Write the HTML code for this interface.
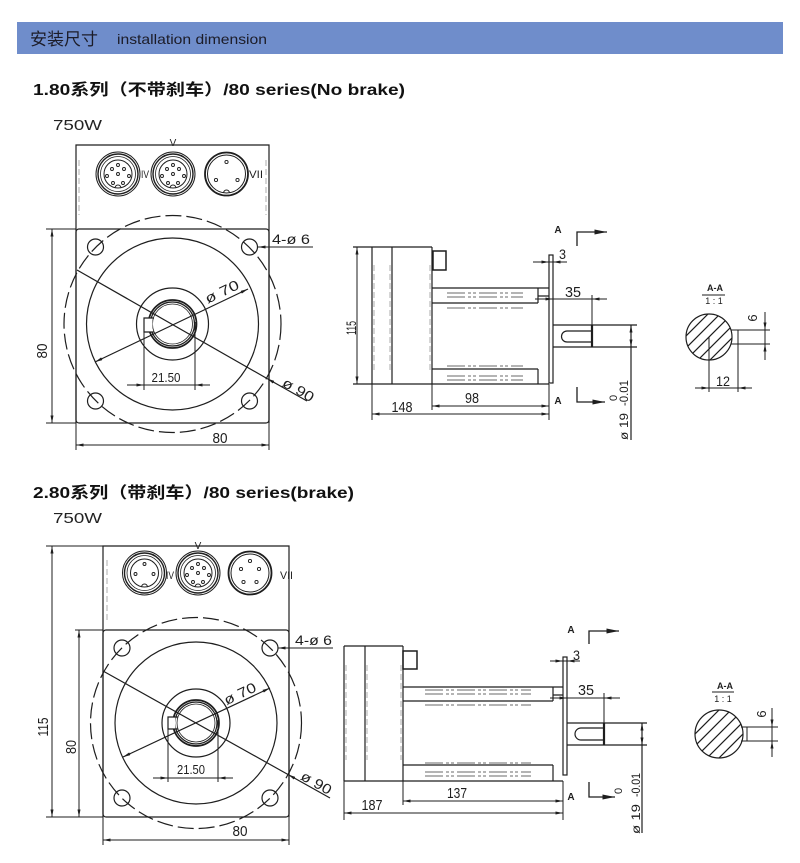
<!DOCTYPE html>
<html><head><meta charset="utf-8"><style>
html,body{margin:0;padding:0;background:#fff;}
svg{display:block;}
</style></head><body>
<svg width="800" height="863" viewBox="0 0 800 863" xmlns="http://www.w3.org/2000/svg" font-family="'Liberation Sans','Noto Sans CJK SC',sans-serif">
<defs>
<marker id="ar" viewBox="0 0 10 4" refX="10" refY="2" markerWidth="8" markerHeight="3" markerUnits="userSpaceOnUse" orient="auto-start-reverse"><path d="M0,0 L10,2 L0,4z" fill="#1e1e1e"/></marker>
<marker id="ab" viewBox="0 0 10 4" refX="10" refY="2" markerWidth="13" markerHeight="5" markerUnits="userSpaceOnUse" orient="auto"><path d="M0,0 L10,2 L0,4z" fill="#1e1e1e"/></marker>
<clipPath id="c1"><circle cx="709" cy="337" r="23"/></clipPath>
<clipPath id="c2"><circle cx="719" cy="734" r="24"/></clipPath>
</defs>
<rect width="800" height="863" fill="#fff"/>

<!-- header -->
<rect x="17" y="22" width="766" height="32" fill="#6f8dcb"/>
<text x="30" y="45" font-size="17" fill="#1c1c28">安装尺寸</text>
<text x="117" y="44" font-size="14" fill="#1c1c28" textLength="150" lengthAdjust="spacingAndGlyphs">installation dimension</text>

<!-- titles -->
<text x="33" y="95" font-size="16" font-weight="bold" fill="#111" textLength="372" lengthAdjust="spacingAndGlyphs">1.80系列（不带刹车）/80 series(No brake)</text>
<text x="53" y="130" font-size="15" fill="#222" textLength="49" lengthAdjust="spacingAndGlyphs">750W</text>
<text x="33" y="498" font-size="16" font-weight="bold" fill="#111" textLength="321" lengthAdjust="spacingAndGlyphs">2.80系列（带刹车）/80 series(brake)</text>
<text x="53" y="523" font-size="15" fill="#222" textLength="49" lengthAdjust="spacingAndGlyphs">750W</text>

<g stroke="#1e1e1e" fill="none" stroke-width="1.2">
<!-- ================= FRONT VIEW 1 ================= -->
<path d="M76,423 V145 H269 V423"/>
<rect x="76" y="229" width="193" height="194" rx="3"/>
<circle cx="172.5" cy="324" r="108.5" stroke-dasharray="16 5"/>
<circle cx="172.5" cy="324" r="86"/>
<circle cx="172.5" cy="324" r="36"/>
<circle cx="172.5" cy="324" r="24" stroke-width="1.7"/>
<circle cx="172.5" cy="324" r="22"/>
<circle cx="172.5" cy="324" r="20" stroke-width="0.8"/>
<rect x="144.5" y="318" width="8" height="14" fill="#fff" stroke="none"/>
<path d="M154,318 H144 V332 H154"/>
<circle cx="95.5" cy="247" r="8"/>
<circle cx="249.5" cy="247" r="8"/>
<circle cx="95.5" cy="401" r="8"/>
<circle cx="249.5" cy="401" r="8"/>
<path d="M77,270 L267,378.5"/>
<path d="M307,401 L267,378.5" marker-end="url(#ar)"/>
<path d="M95,362 L248,289" marker-start="url(#ar)" marker-end="url(#ar)"/>
<path d="M144,318 V390 M195,322 V390 M127,385 H210" stroke-width="1"/>
<path d="M128,385 H144" marker-end="url(#ar)" stroke-width="1"/>
<path d="M210,385 H195" marker-end="url(#ar)" stroke-width="1"/>
<path d="M313,247 H258" marker-end="url(#ar)" stroke-width="1"/>
<path d="M46,229 H76 M46,423 H76 M76,423 V450 M269,423 V450" stroke-width="1"/>
<path d="M52,229 V423" marker-start="url(#ar)" marker-end="url(#ar)" stroke-width="1"/>
<path d="M76,445 H269" marker-start="url(#ar)" marker-end="url(#ar)" stroke-width="1"/>
<path d="M79,160 V215 M266,160 V215" stroke="#999" stroke-width="0.8" stroke-dasharray="6 3"/>
<g>
<circle cx="118" cy="174" r="22" stroke-width="1"/>
<circle cx="118" cy="174" r="20" stroke-width="1.4"/>
<circle cx="118" cy="174" r="17.5" stroke-width="0.8"/>
<circle cx="118" cy="174" r="14" stroke-width="1"/>
<g stroke-width="0.9"><circle cx="112" cy="169" r="1.5"/><circle cx="118" cy="165" r="1.5"/><circle cx="124" cy="169" r="1.5"/><circle cx="107" cy="176" r="1.5"/><circle cx="118" cy="174" r="1.5"/><circle cx="129" cy="176" r="1.5"/><circle cx="113" cy="183" r="1.5"/><circle cx="123" cy="183" r="1.5"/></g>
<path d="M115,188 A3,3 0 0 1 121,188" stroke-width="0.9"/>
</g>
<g>
<circle cx="173" cy="174" r="22" stroke-width="1"/>
<circle cx="173" cy="174" r="20" stroke-width="1.4"/>
<circle cx="173" cy="174" r="17.5" stroke-width="0.8"/>
<circle cx="173" cy="174" r="14" stroke-width="1"/>
<g stroke-width="0.9"><circle cx="167" cy="169" r="1.5"/><circle cx="173" cy="165" r="1.5"/><circle cx="179" cy="169" r="1.5"/><circle cx="162" cy="176" r="1.5"/><circle cx="173" cy="174" r="1.5"/><circle cx="184" cy="176" r="1.5"/><circle cx="168" cy="183" r="1.5"/><circle cx="178" cy="183" r="1.5"/></g>
<path d="M170,188 A3,3 0 0 1 176,188" stroke-width="0.9"/>
</g>
<g>
<circle cx="226.5" cy="174" r="21.5" stroke-width="1.8"/>
<circle cx="226.5" cy="174" r="19" stroke-width="1"/>
<g stroke-width="0.9"><circle cx="226.5" cy="162" r="1.6"/><circle cx="216" cy="180" r="1.6"/><circle cx="237.5" cy="180" r="1.6"/></g>
<path d="M223.5,193 A3,3 0 0 1 229.5,193" stroke-width="0.9"/>
</g>

<!-- ================= FRONT VIEW 2 ================= -->
<path d="M103,817 V546 H289 V817"/>
<rect x="103" y="630" width="186" height="187" rx="3"/>
<circle cx="196" cy="723" r="105.5" stroke-dasharray="16 5"/>
<circle cx="196" cy="723" r="81"/>
<circle cx="196" cy="723" r="34"/>
<circle cx="196" cy="723" r="23" stroke-width="1.7"/>
<circle cx="196" cy="723" r="21"/>
<circle cx="196" cy="723" r="19" stroke-width="0.8"/>
<rect x="168.5" y="717" width="7" height="12" fill="#fff" stroke="none"/>
<path d="M178,717 H168 V729 H178"/>
<circle cx="122" cy="648" r="8"/>
<circle cx="270" cy="648" r="8"/>
<circle cx="122" cy="798" r="8"/>
<circle cx="270" cy="798" r="8"/>
<path d="M103,671 L288,774.5"/>
<path d="M330,798 L288,774.5" marker-end="url(#ar)"/>
<path d="M123,757 L270,688" marker-start="url(#ar)" marker-end="url(#ar)"/>
<path d="M168,717 V782 M218,720 V782 M153,778 H233" stroke-width="1"/>
<path d="M153,778 H168" marker-end="url(#ar)" stroke-width="1"/>
<path d="M233,778 H218" marker-end="url(#ar)" stroke-width="1"/>
<path d="M333,648 H278" marker-end="url(#ar)" stroke-width="1"/>
<path d="M46,546 H103 M46,817 H103 M75,630 H103 M103,817 V845 M289,817 V845" stroke-width="1"/>
<path d="M52,546 V817" marker-start="url(#ar)" marker-end="url(#ar)" stroke-width="1"/>
<path d="M79,630 V817" marker-start="url(#ar)" marker-end="url(#ar)" stroke-width="1"/>
<path d="M103,840 H289" marker-start="url(#ar)" marker-end="url(#ar)" stroke-width="1"/>
<path d="M107,560 V620" stroke="#999" stroke-width="0.8" stroke-dasharray="6 3"/>
<g>
<circle cx="144.5" cy="573" r="22" stroke-width="1"/>
<circle cx="144.5" cy="573" r="20" stroke-width="1.4"/>
<circle cx="144.5" cy="573" r="17.5" stroke-width="0.8"/>
<circle cx="144.5" cy="573" r="14" stroke-width="1"/>
<g stroke-width="0.9"><circle cx="144.5" cy="564" r="1.5"/><circle cx="135.5" cy="574" r="1.5"/><circle cx="153.5" cy="574" r="1.5"/></g>
<path d="M141.5,587 A3,3 0 0 1 147.5,587" stroke-width="0.9"/>
</g>
<g>
<circle cx="198" cy="573" r="22" stroke-width="1"/>
<circle cx="198" cy="573" r="20" stroke-width="1.4"/>
<circle cx="198" cy="573" r="17.5" stroke-width="0.8"/>
<circle cx="198" cy="573" r="14" stroke-width="1"/>
<g stroke-width="0.9"><circle cx="192" cy="568" r="1.5"/><circle cx="198" cy="564" r="1.5"/><circle cx="204" cy="568" r="1.5"/><circle cx="187" cy="575" r="1.5"/><circle cx="198" cy="573" r="1.5"/><circle cx="209" cy="575" r="1.5"/><circle cx="193" cy="582" r="1.5"/><circle cx="203" cy="582" r="1.5"/></g>
<path d="M195,587 A3,3 0 0 1 201,587" stroke-width="0.9"/>
</g>
<g>
<circle cx="250" cy="573" r="21.5" stroke-width="1.8"/>
<circle cx="250" cy="573" r="19" stroke-width="1"/>
<g stroke-width="0.9"><circle cx="250" cy="561" r="1.6"/><circle cx="241" cy="569" r="1.6"/><circle cx="259" cy="569" r="1.6"/><circle cx="243.5" cy="582" r="1.6"/><circle cx="256.5" cy="582" r="1.6"/></g>
</g>

<!-- ================= SIDE VIEW 1 ================= -->
<path d="M353,247 H432 M353,384 H549"/>
<path d="M372,247 V384 M392,247 V384 M432,247 V384"/>
<path d="M374,265 V370 M390,265 V370 M430,265 V370" stroke="#999" stroke-width="0.8" stroke-dasharray="6 3"/>
<rect x="433" y="251" width="13" height="19" stroke-width="1.5"/>
<path d="M432,288 H549 M432,303 H538 M432,369 H538 M538,288 V303 M538,369 V384 M538,296 H549"/>
<rect x="549" y="255" width="4" height="128"/>
<path d="M447,293 H523 M447,297 H523 M447,308 H523 M447,366 H523 M447,376 H523 M447,380 H523" stroke="#888" stroke-width="1.3" stroke-dasharray="18 3 3 2 3 3"/>
<path d="M357,247 V384" marker-start="url(#ar)" marker-end="url(#ar)" stroke-width="1"/>
<path d="M533,262 H567" stroke-width="1"/>
<path d="M534,262 H549" marker-end="url(#ar)" stroke-width="1"/>
<path d="M567,262 H553" marker-end="url(#ar)" stroke-width="1"/>
<path d="M535,299 H607" stroke-width="1"/>
<path d="M607,299 H592" marker-end="url(#ar)" stroke-width="1"/>
<path d="M535,299 H553" marker-end="url(#ar)" stroke-width="1"/>
<path d="M592,295 V325" stroke-width="1"/>
<path d="M553,325 H637 M553,347 H637"/>
<path d="M592,325 V347" stroke-width="2.2"/>
<path d="M592,331 H567 A5.5,5.5 0 0 0 567,342 H592"/>
<path d="M631,325 V440" stroke-width="1.2"/>
<path d="M631,337 V325" marker-end="url(#ar)" stroke-width="1"/>
<path d="M631,335 V347" marker-end="url(#ar)" stroke-width="1"/>
<path d="M577,246 V232 H607" marker-end="url(#ab)" stroke-width="1.3"/>
<path d="M577,387 V402 H605" marker-end="url(#ab)" stroke-width="1.3"/>
<path d="M372,384 V420 M432,384 V410 M549,384 V420" stroke-width="1"/>
<path d="M432,406 H549" marker-start="url(#ar)" marker-end="url(#ar)" stroke-width="1"/>
<path d="M372,414 H549" marker-start="url(#ar)" marker-end="url(#ar)" stroke-width="1"/>

<!-- ================= SIDE VIEW 2 ================= -->
<path d="M344,646 H403 M344,781 H563"/>
<path d="M344,646 V781 M365,646 V781 M403,646 V781"/>
<path d="M346,665 V760 M367,665 V760 M401,665 V760" stroke="#999" stroke-width="0.8" stroke-dasharray="6 3"/>
<rect x="403" y="651" width="14" height="18" stroke-width="1.5"/>
<path d="M403,687 H563 M403,701 H553 M403,765 H553 M553,687 V701 M553,765 V781 M553,695 H563"/>
<rect x="563" y="657" width="4" height="118"/>
<path d="M425,690 H531 M425,694 H531 M425,705 H531 M425,763 H531 M425,772 H531 M425,776 H531" stroke="#888" stroke-width="1.3" stroke-dasharray="18 3 3 2 3 3"/>
<path d="M550,661 H580" stroke-width="1"/>
<path d="M550,661 H563" marker-end="url(#ar)" stroke-width="1"/>
<path d="M580,661 H567" marker-end="url(#ar)" stroke-width="1"/>
<path d="M550,698 H620" stroke-width="1"/>
<path d="M620,698 H604" marker-end="url(#ar)" stroke-width="1"/>
<path d="M550,698 H567" marker-end="url(#ar)" stroke-width="1"/>
<path d="M604,693 V723" stroke-width="1"/>
<path d="M567,723 H647 M567,745 H647"/>
<path d="M604,723 V745" stroke-width="2.2"/>
<path d="M604,728 H581 A6,6 0 0 0 581,740 H604"/>
<path d="M642,723 V833" stroke-width="1.2"/>
<path d="M642,735 V723" marker-end="url(#ar)" stroke-width="1"/>
<path d="M642,733 V745" marker-end="url(#ar)" stroke-width="1"/>
<path d="M589,644 V631 H619" marker-end="url(#ab)" stroke-width="1.3"/>
<path d="M589,782 V797 H615" marker-end="url(#ab)" stroke-width="1.3"/>
<path d="M344,781 V820 M403,781 V805 M563,781 V820" stroke-width="1"/>
<path d="M403,801 H563" marker-start="url(#ar)" marker-end="url(#ar)" stroke-width="1"/>
<path d="M344,813 H563" marker-start="url(#ar)" marker-end="url(#ar)" stroke-width="1"/>

<!-- ================= A-A 1 ================= -->
<circle cx="709" cy="337" r="23"/>
<g clip-path="url(#c1)" stroke-width="1.2">
<path d="M670,352 L740,282 M670,364 L740,294 M670,376 L740,306 M670,388 L740,318 M670,400 L740,330 M670,412 L740,342"/>
</g>
<path d="M731,330 H770 M731,344 H770 M738,330 V392 M709,337 V392" stroke-width="1"/>
<path d="M695,388 H752" stroke-width="1"/>
<path d="M695,388 H709" marker-end="url(#ar)" stroke-width="1"/>
<path d="M752,388 H738" marker-end="url(#ar)" stroke-width="1"/>
<path d="M765,312 V360" stroke-width="1"/>
<path d="M765,314 V330" marker-end="url(#ar)" stroke-width="1"/>
<path d="M765,360 V344" marker-end="url(#ar)" stroke-width="1"/>
<path d="M702,295 H725" stroke-width="1"/>

<!-- ================= A-A 2 ================= -->
<circle cx="719" cy="734" r="24"/>
<g clip-path="url(#c2)" stroke-width="1.2">
<path d="M680,749 L760,669 M680,761 L760,681 M680,773 L760,693 M680,785 L760,705 M680,797 L760,717 M680,809 L760,729"/>
</g>
<path d="M741,727 H778 M741,741 H778 M747,727 V741" stroke-width="1"/>
<path d="M772,708 V757" stroke-width="1"/>
<path d="M772,710 V727" marker-end="url(#ar)" stroke-width="1"/>
<path d="M772,757 V741" marker-end="url(#ar)" stroke-width="1"/>
<path d="M712,692 H734" stroke-width="1"/>
</g>

<!-- ================= TEXT LABELS ================= -->
<g fill="#1e1e1e" font-family="'Liberation Sans',sans-serif">
<text x="173" y="146" font-size="10" text-anchor="middle">V</text>
<text x="141" y="178" font-size="11" textLength="8" lengthAdjust="spacingAndGlyphs">IV</text>
<text x="249" y="178" font-size="11" textLength="14" lengthAdjust="spacingAndGlyphs">VII</text>
<text x="272" y="244" font-size="14" textLength="38" lengthAdjust="spacingAndGlyphs">4-ø 6</text>
<text transform="translate(224,296) rotate(-25.5)" font-size="14" text-anchor="middle" textLength="36" lengthAdjust="spacingAndGlyphs">ø 70</text>
<text transform="translate(296,394) rotate(29.7)" font-size="14" text-anchor="middle" textLength="34" lengthAdjust="spacingAndGlyphs">ø 90</text>
<text x="166" y="382" font-size="13" text-anchor="middle" textLength="29" lengthAdjust="spacingAndGlyphs">21.50</text>
<text transform="translate(47,351) rotate(-90)" font-size="15" text-anchor="middle" textLength="15" lengthAdjust="spacingAndGlyphs">80</text>
<text x="220" y="443" font-size="15" text-anchor="middle" textLength="15" lengthAdjust="spacingAndGlyphs">80</text>
<text x="198" y="549" font-size="10" text-anchor="middle">V</text>
<text x="166" y="579" font-size="11" textLength="8" lengthAdjust="spacingAndGlyphs">IV</text>
<text x="280" y="579" font-size="11" textLength="13" lengthAdjust="spacingAndGlyphs">VII</text>
<text x="295" y="645" font-size="14" textLength="37" lengthAdjust="spacingAndGlyphs">4-ø 6</text>
<text transform="translate(242,698) rotate(-25.1)" font-size="14" text-anchor="middle" textLength="34" lengthAdjust="spacingAndGlyphs">ø 70</text>
<text transform="translate(314,787) rotate(29.2)" font-size="14" text-anchor="middle" textLength="33" lengthAdjust="spacingAndGlyphs">ø 90</text>
<text x="191" y="774" font-size="13" text-anchor="middle" textLength="28" lengthAdjust="spacingAndGlyphs">21.50</text>
<text transform="translate(48,727) rotate(-90)" font-size="15" text-anchor="middle" textLength="19" lengthAdjust="spacingAndGlyphs">115</text>
<text transform="translate(76,747) rotate(-90)" font-size="15" text-anchor="middle" textLength="14" lengthAdjust="spacingAndGlyphs">80</text>
<text x="240" y="836" font-size="15" text-anchor="middle" textLength="15" lengthAdjust="spacingAndGlyphs">80</text>
<text transform="translate(356,328) rotate(-90)" font-size="14" text-anchor="middle" textLength="14" lengthAdjust="spacingAndGlyphs">115</text>
<text x="559" y="259" font-size="14" textLength="7" lengthAdjust="spacingAndGlyphs">3</text>
<text x="573" y="297" font-size="15" text-anchor="middle" textLength="16" lengthAdjust="spacingAndGlyphs">35</text>
<text x="472" y="403" font-size="15" text-anchor="middle" textLength="14" lengthAdjust="spacingAndGlyphs">98</text>
<text x="402" y="412" font-size="15" text-anchor="middle" textLength="21" lengthAdjust="spacingAndGlyphs">148</text>
<text x="558" y="233" font-size="10" font-weight="bold" text-anchor="middle">A</text>
<text x="558" y="404" font-size="10" font-weight="bold" text-anchor="middle">A</text>
<text transform="translate(628,440) rotate(-90)" font-size="12" textLength="27" lengthAdjust="spacingAndGlyphs">ø 19</text>
<text transform="translate(628,406) rotate(-90)" font-size="12" textLength="26" lengthAdjust="spacingAndGlyphs">-0.01</text>
<text transform="translate(617,401) rotate(-90)" font-size="11">0</text>
<text x="573" y="660" font-size="14" textLength="7" lengthAdjust="spacingAndGlyphs">3</text>
<text x="586" y="695" font-size="15" text-anchor="middle" textLength="16" lengthAdjust="spacingAndGlyphs">35</text>
<text x="457" y="798" font-size="15" text-anchor="middle" textLength="20" lengthAdjust="spacingAndGlyphs">137</text>
<text x="372" y="810" font-size="15" text-anchor="middle" textLength="21" lengthAdjust="spacingAndGlyphs">187</text>
<text x="571" y="633" font-size="10" font-weight="bold" text-anchor="middle">A</text>
<text x="571" y="800" font-size="10" font-weight="bold" text-anchor="middle">A</text>
<text transform="translate(640,834) rotate(-90)" font-size="12" textLength="30" lengthAdjust="spacingAndGlyphs">ø 19</text>
<text transform="translate(640,797) rotate(-90)" font-size="12" textLength="24" lengthAdjust="spacingAndGlyphs">-0.01</text>
<text transform="translate(622,794) rotate(-90)" font-size="11">0</text>
<text x="715" y="291" font-size="9" font-weight="bold" text-anchor="middle">A-A</text>
<text x="714" y="304" font-size="9" text-anchor="middle">1 : 1</text>
<text x="723" y="386" font-size="14" text-anchor="middle" textLength="14" lengthAdjust="spacingAndGlyphs">12</text>
<text transform="translate(757,318) rotate(-90)" font-size="13" text-anchor="middle">6</text>
<text x="725" y="689" font-size="9" font-weight="bold" text-anchor="middle">A-A</text>
<text x="723" y="702" font-size="9" text-anchor="middle">1 : 1</text>
<text transform="translate(766,714) rotate(-90)" font-size="13" text-anchor="middle">6</text>
</g>
</svg>
</body></html>
